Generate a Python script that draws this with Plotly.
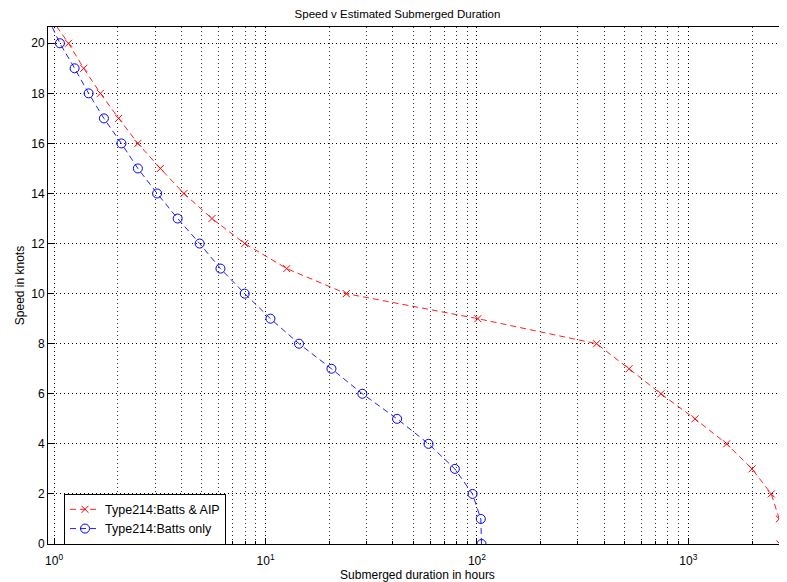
import plotly.graph_objects as go

# Data
speed_knots = [21, 20, 19, 18, 17, 16, 15, 14, 13, 12, 11, 10, 9, 8, 7, 6, 5, 4, 3, 2, 1, 0]
hours_batts_aip = [0.965, 1.17, 1.38, 1.655, 2.02, 2.49, 3.18, 4.11, 5.58, 7.97, 12.6, 24.1,
                   101, 368, 524, 742, 1075, 1518, 2001, 2467, 2692, 2714]
hours_batts_only = [0.935, 1.065, 1.25, 1.456, 1.72, 2.08, 2.49, 3.07, 3.84, 4.88, 6.12, 7.97,
                    10.55, 14.4, 20.5, 28.7, 41.9, 59.0, 78.6, 95.3, 104.3, 105.1]

x_major = [1, 10, 100, 1000]
x_major_text = ["10<sup>0</sup>", "10<sup>1</sup>", "10<sup>2</sup>", "10<sup>3</sup>"]
x_minor = [m * d for d in (1, 10, 100, 1000) for m in range(2, 10)]
y_ticks = list(range(0, 21, 2))

font_family = "Liberation Sans, Arial, sans-serif"
grid_dash = "1px,3px"

fig = go.Figure()
fig.add_trace(go.Scatter(
    x=hours_batts_aip, y=speed_knots, mode="lines+markers",
    name="Type214:Batts & AIP",
    line=dict(color="#ff2020", width=1, dash="6px,4px"),
    marker=dict(symbol="x-thin-open", size=7, color="#ff0000", line=dict(color="#ff0000", width=1)),
))
fig.add_trace(go.Scatter(
    x=hours_batts_only, y=speed_knots, mode="lines+markers",
    name="Type214:Batts only",
    line=dict(color="#2020ff", width=1, dash="6px,4px"),
    marker=dict(symbol="circle-open", size=9, color="#0000ff", line=dict(color="#0000ff", width=1)),
))

# page body has an 8px margin: figure starts at (8, 8) in the window
fig.update_layout(
    width=779, height=574,
    margin=dict(l=40, r=0, t=19, b=38),
    paper_bgcolor="white", plot_bgcolor="white",
    font=dict(family=font_family, size=11, color="black"),
    title=dict(text="Speed v Estimated Submerged Duration", x=0.5, xanchor="center",
               y=1 - 6 / 574, yanchor="middle", font=dict(size=11.5)),
    showlegend=True,
    legend=dict(x=0.0217, y=0.0973, xanchor="left", yanchor="top",
                bgcolor="white", bordercolor="black", borderwidth=1,
                font=dict(size=12.5), tracegroupgap=0),
)

fig.update_xaxes(
    type="log", range=[-0.029, 3.4666],
    tickmode="array", tickvals=x_major, ticktext=x_major_text,
    ticks="inside", ticklen=6, tickcolor="black",
    ticklabelstandoff=6,
    showgrid=True, gridcolor="black", griddash=grid_dash, gridwidth=1,
    showline=True, linecolor="black", linewidth=1, mirror=True,
    zeroline=False,
    minor=dict(tickmode="array", tickvals=x_minor, ticks="inside", ticklen=3,
               tickcolor="black", showgrid=True, gridcolor="#333333", griddash=grid_dash, gridwidth=1),
    title=dict(text="Submerged duration in hours", font=dict(size=12), standoff=2),
    tickfont=dict(size=12),
)
fig.update_yaxes(
    range=[0, 20.65],
    tickmode="array", tickvals=y_ticks,
    ticks="inside", ticklen=6, tickcolor="black",
    showgrid=True, gridcolor="black", griddash=grid_dash, gridwidth=1,
    showline=True, linecolor="black", linewidth=1, mirror=True,
    zeroline=False,
    title=dict(text="Speed in knots", font=dict(size=12), standoff=4),
    tickfont=dict(size=12),
)

fig.write_html("out.html")
